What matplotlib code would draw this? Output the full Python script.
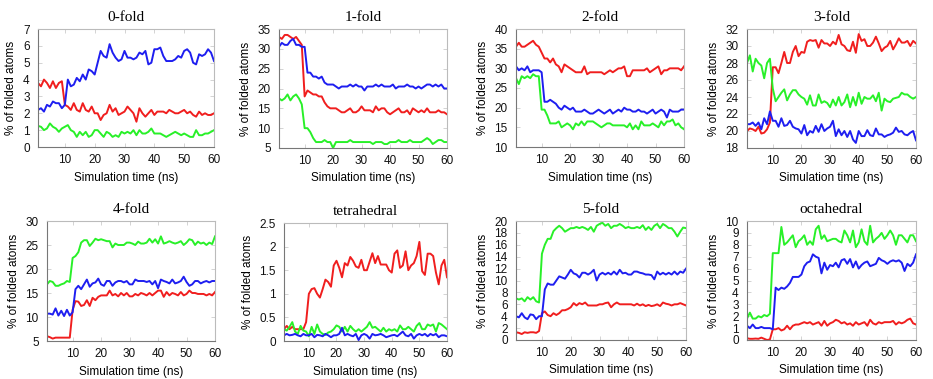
import numpy as np
import matplotlib
matplotlib.use("Agg")
import matplotlib.pyplot as plt

RED = "#f01e1e"
GREEN = "#28f028"
BLUE = "#1e1ef0"

time_ns = np.arange(1, 61)

titles = ["0-fold", "1-fold", "2-fold", "3-fold",
          "4-fold", "tetrahedral", "5-fold", "octahedral"]

# y ranges and tick spacing
y_limits = [(0, 7), (5, 35), (10, 40), (18, 32),
            (5, 30), (0, 2.5), (0, 20), (0, 10)]
y_steps = [1, 5, 5, 2, 5, 0.5, 2, 1]

# ---- 0-fold ----
fold0_red = [3.8, 3.6, 4.0, 3.8, 3.5, 3.9, 3.5, 3.8, 3.9, 2.5,
             2.4, 2.2, 2.6, 2.2, 2.1, 2.6, 2.2, 2.1, 2.4, 2.0,
             2.0, 1.6, 1.9, 2.0, 2.5, 2.1, 2.3, 1.9, 2.0, 2.1,
             2.4, 2.2, 2.0, 1.5, 2.3, 2.0, 1.8, 2.0, 2.2, 1.9,
             2.1, 2.1, 2.1, 2.0, 2.2, 2.1, 2.0, 2.0, 2.1, 2.2,
             2.0, 2.1, 1.9, 1.8, 2.1, 1.9, 2.0, 1.9, 1.9, 2.0]
fold0_green = [1.25, 1.2, 1.0, 1.1, 1.4, 1.2, 1.1, 0.9, 1.1, 1.2,
               1.3, 1.0, 0.9, 0.6, 0.9, 0.7, 0.9, 0.6, 0.7, 1.0,
               1.0, 0.8, 0.6, 0.9, 0.8, 0.6, 0.7, 0.6, 0.9, 0.8,
               0.9, 0.8, 1.0, 0.7, 1.0, 0.8, 0.8, 0.9, 1.1, 0.8,
               0.8, 0.8, 0.7, 0.6, 0.7, 0.8, 0.9, 0.8, 0.7, 0.8,
               0.7, 0.6, 0.6, 1.0, 0.7, 0.7, 0.8, 0.8, 0.9, 1.0]
fold0_blue = [2.2, 2.3, 2.1, 2.5, 2.4, 2.7, 2.6, 2.6, 2.3, 2.5,
              4.0, 3.6, 3.7, 4.1, 3.9, 4.3, 4.0, 4.6, 4.5, 4.3,
              5.0, 5.7, 5.4, 5.3, 6.1, 5.6, 5.3, 5.1, 5.2, 5.7,
              5.3, 5.3, 5.2, 5.3, 5.6, 5.5, 5.7, 4.9, 5.0, 5.8,
              5.8, 5.9, 5.4, 5.1, 5.1, 5.1, 5.2, 5.4, 5.3, 5.7,
              5.8, 5.6, 5.0, 4.9, 5.5, 5.4, 5.5, 5.8, 5.6, 5.1]

# ---- 1-fold ----
fold1_red = [33.0, 32.5, 33.5, 33.5, 33.0, 32.5, 33.0, 32.0, 31.0, 18.0,
             19.5, 19.0, 18.5, 18.5, 18.0, 18.0, 16.5, 15.5, 15.0, 15.0,
             15.0, 14.5, 14.0, 14.0, 14.5, 15.0, 14.0, 14.0, 14.5, 15.5,
             14.5, 14.5, 14.5, 14.0, 15.5, 14.5, 15.0, 15.0, 14.0, 13.5,
             14.0, 14.5, 15.0, 14.0, 14.0, 14.5, 13.5, 15.0, 14.5, 14.0,
             14.5, 14.0, 15.0, 14.0, 14.0, 14.0, 14.5, 14.0, 14.0, 13.5]
fold1_green = [17.5, 17.0, 17.5, 18.5, 17.0, 18.0, 18.5, 17.5, 16.0, 10.0,
               10.0, 9.0, 7.5, 6.5, 6.5, 6.5, 7.0, 6.5, 6.5, 5.0,
               6.5, 6.5, 6.5, 6.5, 6.5, 7.0, 6.5, 6.5, 6.5, 6.5,
               6.5, 6.5, 6.5, 6.0, 6.5, 6.5, 6.5, 6.0, 6.0, 6.5,
               6.5, 6.5, 7.0, 6.5, 6.5, 6.5, 7.0, 6.5, 6.5, 6.5,
               6.5, 7.0, 7.5, 7.0, 6.0, 6.5, 7.0, 7.0, 6.5, 6.5]
fold1_blue = [30.5, 31.5, 31.0, 31.0, 32.0, 32.5, 31.0, 31.0, 30.5, 30.5,
              24.0, 24.0, 23.0, 23.0, 22.5, 23.0, 21.5, 21.0, 21.0, 21.0,
              20.5, 20.0, 20.5, 20.5, 20.5, 21.0, 20.5, 21.0, 20.5, 20.5,
              19.5, 20.5, 20.5, 20.5, 21.0, 20.5, 21.0, 20.5, 20.5, 20.5,
              21.0, 20.0, 20.5, 20.5, 20.5, 21.0, 20.5, 20.5, 20.0, 20.5,
              20.0, 20.5, 21.0, 21.0, 20.5, 21.0, 20.5, 21.0, 20.0, 20.0]

# ---- 2-fold ----
fold2_red = [35.5, 36.5, 35.5, 35.5, 36.0, 36.5, 37.0, 36.0, 35.5, 34.0,
             32.5, 32.5, 31.5, 32.5, 31.0, 30.5, 29.0, 31.0, 30.5, 30.0,
             29.5, 29.0, 29.0, 29.0, 30.5, 28.5, 29.0, 29.0, 29.0, 29.0,
             29.0, 28.5, 29.0, 29.5, 29.0, 29.5, 30.0, 30.0, 30.5, 28.0,
             28.0, 29.5, 29.5, 29.5, 29.5, 29.5, 30.0, 29.0, 29.5, 30.0,
             30.5, 28.5, 29.5, 29.5, 30.0, 30.0, 30.0, 30.0, 29.5, 30.5]
fold2_green = [27.5, 26.0, 28.0, 27.5, 28.0, 27.5, 28.5, 28.0, 28.0, 19.5,
               19.5, 18.0, 16.0, 16.0, 16.0, 16.5, 15.0, 15.5, 16.0, 15.5,
               14.5, 16.0, 15.5, 16.5, 15.5, 16.5, 16.5, 16.5, 16.0, 15.5,
               15.0, 15.5, 16.0, 16.0, 15.5, 15.5, 15.5, 15.5, 15.5, 15.0,
               16.0, 14.5, 15.5, 14.5, 16.5, 15.5, 15.5, 15.5, 16.0, 15.5,
               15.0, 16.5, 15.5, 16.5, 16.5, 17.0, 15.5, 16.0, 15.0, 14.5]
fold2_blue = [30.5, 29.5, 30.0, 29.5, 30.5, 29.0, 29.5, 29.5, 29.5, 29.0,
              21.5, 21.5, 22.0, 21.5, 21.0, 20.0, 19.5, 20.5, 20.0, 19.5,
              20.0, 19.0, 19.0, 19.0, 19.5, 19.0, 18.5, 18.5, 19.0, 19.5,
              19.0, 18.5, 19.0, 19.5, 18.5, 19.0, 19.5, 19.0, 20.0, 19.5,
              19.5, 19.0, 19.0, 19.5, 19.0, 19.0, 18.5, 19.0, 19.5, 18.5,
              19.0, 19.5, 19.0, 17.5, 19.5, 19.0, 19.0, 19.0, 19.5, 19.5]

# ---- 3-fold ----
fold3_red = [20.0, 20.3, 20.2, 20.0, 20.5, 19.7, 19.8, 20.2, 21.0, 27.5,
             27.5, 26.8, 28.0, 29.3, 28.0, 28.0, 29.3, 30.0, 28.8, 29.3,
             29.2, 30.5, 30.7, 30.6, 30.7, 29.8, 30.7, 30.3, 30.3, 30.0,
             30.5, 30.2, 31.3, 30.2, 30.0, 29.5, 29.4, 30.5, 29.2, 31.4,
             30.6, 30.8, 30.0, 30.0, 30.4, 31.1, 30.3, 29.4, 29.8, 30.0,
             30.6, 29.6, 30.2, 30.9, 30.4, 30.4, 30.6, 30.0, 30.6, 30.3]
fold3_green = [28.0, 28.9, 27.0, 28.5, 28.0, 27.7, 26.2, 28.0, 28.5, 25.0,
               23.5, 24.0, 24.5, 24.9, 23.6, 24.3, 24.8, 24.8, 24.3, 24.0,
               23.8, 23.1, 24.2, 23.0, 23.0, 24.3, 23.3, 23.5, 23.3, 22.8,
               23.7, 23.0, 24.0, 23.0, 23.4, 24.3, 22.8, 24.0, 23.0, 24.5,
               23.2, 24.0, 23.8, 23.8, 24.2, 23.5, 24.5, 22.4, 23.8, 23.5,
               23.4, 23.8, 23.9, 24.0, 24.5, 24.3, 24.3, 24.0, 23.8, 24.0]
fold3_blue = [20.8, 20.8, 21.0, 20.6, 21.0, 20.2, 21.5, 20.8, 22.3, 21.2,
              21.2, 20.5, 21.5, 20.6, 20.7, 21.2, 20.5, 20.3, 20.2, 19.7,
              20.7, 19.5, 20.0, 19.8, 20.6, 19.9, 20.8, 20.0, 20.3, 20.5,
              21.2, 19.4, 20.2, 19.5, 20.0, 19.3, 20.0, 19.0, 18.6, 20.0,
              19.4, 19.4, 20.1, 19.5, 19.4, 20.3, 19.6, 19.6, 19.3, 19.5,
              19.6, 19.8, 20.4, 19.9, 20.0, 19.6, 19.5, 19.8, 20.0, 18.9]

# ---- 4-fold ----
fold4_red = [6.0, 5.8, 5.5, 5.7, 5.7, 5.7, 5.7, 5.7, 5.7, 11.5,
             13.3, 13.2, 12.3, 12.5, 13.5, 12.3, 14.0, 13.5, 14.2, 14.5,
             14.5, 14.5, 15.5, 14.5, 14.8, 14.3, 15.0, 14.5, 15.0, 14.3,
             14.3, 14.8, 14.5, 15.0, 14.8, 14.5, 15.0, 14.5, 15.0, 15.5,
             15.5, 14.2, 15.2, 14.5, 15.0, 14.8, 14.5, 15.2, 14.5, 14.8,
             15.5, 15.0, 15.0, 14.8, 14.8, 14.8, 14.5, 14.8, 14.5, 15.2]
fold4_green = [16.8, 17.5, 17.3, 16.5, 16.5, 16.8, 17.0, 17.5, 17.3, 22.3,
               22.7, 23.5, 25.5, 26.0, 26.0, 24.8, 25.5, 26.3, 26.0, 26.2,
               26.0, 25.8, 25.8, 24.5, 25.3, 25.0, 25.0, 25.0, 25.5, 25.5,
               25.3, 25.0, 25.7, 25.3, 25.3, 25.5, 26.3, 25.5, 26.2, 25.3,
               26.8, 25.3, 25.5, 25.8, 25.5, 25.3, 25.5, 25.8, 25.0, 25.5,
               26.2, 26.0, 25.0, 25.7, 25.3, 25.5, 25.0, 25.5, 25.2, 26.8]
fold4_blue = [10.7, 10.7, 10.5, 11.8, 10.3, 11.3, 10.2, 11.5, 10.3, 11.0,
              15.8, 16.5, 15.8, 16.8, 17.8, 16.3, 17.0, 17.2, 18.0, 16.8,
              16.5, 17.5, 17.5, 16.5, 17.2, 17.5, 17.5, 17.2, 17.5, 16.8,
              16.8, 17.8, 17.5, 17.5, 17.5, 17.3, 17.5, 16.8, 17.5, 16.0,
              17.8, 17.5, 17.3, 17.0, 17.8, 17.0, 17.2, 17.5, 18.4, 17.3,
              16.5, 16.8, 17.5, 17.5, 17.0, 17.3, 17.5, 17.2, 17.5, 17.5]

# ---- tetrahedral ----
tetra_red = [0.25, 0.32, 0.25, 0.30, 0.25, 0.25, 0.25, 0.25, 0.40, 1.00,
             1.10, 1.12, 1.00, 0.92, 1.10, 1.30, 1.25, 1.15, 1.60, 1.70,
             1.55, 1.35, 1.65, 1.60, 1.78, 1.70, 1.58, 1.55, 1.72, 1.50,
             1.50, 1.68, 1.86, 1.65, 1.80, 1.62, 1.62, 1.62, 1.50, 1.45,
             1.85, 1.92, 1.55, 1.60, 1.90, 1.50, 1.60, 1.65, 1.80, 2.10,
             1.48, 1.40, 1.85, 1.85, 1.80, 1.45, 1.20, 1.60, 1.72, 1.35]
tetra_green = [0.25, 0.22, 0.30, 0.40, 0.20, 0.15, 0.32, 0.22, 0.20, 0.10,
               0.30, 0.15, 0.35, 0.20, 0.15, 0.13, 0.18, 0.20, 0.25, 0.33,
               0.30, 0.20, 0.30, 0.20, 0.32, 0.25, 0.20, 0.25, 0.20, 0.25,
               0.30, 0.40, 0.28, 0.30, 0.25, 0.20, 0.28, 0.20, 0.25, 0.22,
               0.25, 0.20, 0.33, 0.25, 0.25, 0.30, 0.25, 0.20, 0.32, 0.38,
               0.25, 0.25, 0.35, 0.32, 0.35, 0.20, 0.38, 0.35, 0.30, 0.25]
tetra_blue = [0.12, 0.15, 0.12, 0.13, 0.15, 0.12, 0.10, 0.15, 0.12, 0.12,
              0.15, 0.08, 0.13, 0.12, 0.10, 0.15, 0.12, 0.08, 0.12, 0.12,
              0.15, 0.28, 0.12, 0.15, 0.12, 0.10, 0.15, 0.02, 0.12, 0.15,
              0.12, 0.05, 0.15, 0.12, 0.13, 0.15, 0.12, 0.08, 0.10, 0.12,
              0.13, 0.10, 0.15, 0.20, 0.12, 0.10, 0.15, 0.05, 0.12, 0.15,
              0.12, 0.15, 0.10, 0.15, 0.12, 0.15, 0.08, 0.12, 0.12, 0.10]

# ---- 5-fold ----
fold5_red = [1.3, 1.2, 1.0, 1.3, 1.2, 1.3, 1.3, 1.2, 1.5, 4.5,
             4.8, 4.2, 4.0, 4.5, 4.2, 4.5, 5.0, 5.0, 5.2, 5.5,
             6.2, 5.8, 6.2, 6.0, 6.3, 5.8, 5.8, 5.8, 5.8, 6.0,
             6.0, 6.2, 6.3, 5.5, 6.0, 6.3, 6.0, 6.0, 6.0, 6.0,
             6.0, 5.8, 6.1, 5.8, 6.0, 5.7, 5.9, 5.7, 5.8, 6.0,
             5.7, 6.3, 6.1, 6.0, 5.8, 6.0, 6.0, 6.2, 6.0, 5.8]
fold5_green = [7.0, 6.8, 7.0, 6.5, 7.2, 6.8, 7.2, 6.5, 6.3, 14.5,
               16.0, 17.0, 17.0, 18.3, 18.8, 19.2, 18.8, 18.2, 18.5, 18.8,
               18.8, 19.0, 18.8, 19.0, 18.8, 18.5, 19.0, 18.2, 19.2, 19.5,
               19.7, 19.2, 19.5, 18.8, 19.2, 19.2, 19.5, 19.2, 18.8, 19.0,
               18.8, 18.8, 19.0, 18.8, 19.3, 18.5, 19.0, 18.5, 19.2, 19.5,
               18.8, 19.5, 19.2, 18.8, 18.8, 18.2, 17.4, 18.2, 18.9, 18.8]
fold5_blue = [4.0, 3.8, 4.5, 3.8, 3.5, 4.3, 4.2, 3.5, 4.0, 4.0,
              8.5, 9.5, 9.3, 9.3, 10.0, 10.7, 10.5, 10.3, 11.0, 11.8,
              11.2, 11.0, 10.5, 11.3, 11.3, 11.0, 11.3, 11.8, 10.0, 11.0,
              11.3, 11.0, 11.3, 11.0, 11.5, 11.0, 11.8, 11.2, 11.3, 11.0,
              11.0, 11.5, 11.5, 11.3, 11.2, 11.0, 11.0, 10.9, 10.2, 11.5,
              11.0, 11.3, 11.0, 11.3, 11.0, 11.5, 11.0, 11.5, 11.3, 12.0]

# ---- octahedral ----
octa_red = [0.15, 0.10, 0.10, 0.12, 0.10, 0.20, 0.10, 0.00, 0.05, 0.90,
            0.90, 1.00, 0.80, 0.90, 1.20, 0.90, 1.20, 1.30, 1.30, 1.40,
            1.50, 1.40, 1.50, 1.30, 1.40, 1.50, 1.20, 1.60, 1.20, 1.40,
            1.50, 1.70, 1.60, 1.40, 1.50, 1.30, 1.40, 1.20, 1.50, 1.30,
            1.40, 1.50, 1.20, 1.70, 1.40, 1.30, 1.50, 1.40, 1.50, 1.50,
            1.50, 1.60, 1.30, 1.50, 1.40, 1.50, 1.70, 1.80, 1.40, 1.30]
octa_green = [1.8, 2.3, 1.8, 1.8, 2.0, 1.9, 2.1, 2.0, 2.2, 7.3,
              7.3, 7.3, 9.5, 8.0, 8.2, 8.5, 8.8, 7.8, 8.3, 8.5,
              8.8, 8.0, 8.3, 8.0, 9.3, 9.6, 8.5, 8.8, 8.3, 8.4,
              8.5, 8.5, 8.3, 8.2, 9.2, 8.8, 8.2, 9.2, 7.8, 8.2,
              9.3, 8.3, 8.0, 9.6, 8.2, 8.5, 8.7, 9.0, 8.5, 8.8,
              9.2, 8.8, 8.0, 8.8, 8.8, 8.5, 8.2, 8.8, 8.8, 8.3]
octa_blue = [1.2, 1.0, 1.3, 1.0, 1.0, 1.1, 1.0, 1.0, 1.0, 0.9,
             4.4, 4.2, 4.4, 4.3, 4.5, 4.8, 5.3, 5.3, 5.3, 5.5,
             6.2, 6.5, 6.6, 7.2, 7.0, 6.9, 5.6, 6.5, 5.9, 6.3,
             6.2, 6.5, 6.1, 6.7, 6.8, 6.4, 6.8, 6.1, 6.6, 6.0,
             6.3, 6.5, 6.6, 6.2, 6.3, 6.4, 6.9, 6.7, 6.6, 6.4,
             6.6, 6.7, 6.6, 6.7, 6.5, 5.8, 6.4, 6.2, 6.5, 7.2]

panels = [
    (fold0_red, fold0_green, fold0_blue),
    (fold1_red, fold1_green, fold1_blue),
    (fold2_red, fold2_green, fold2_blue),
    (fold3_red, fold3_green, fold3_blue),
    (fold4_red, fold4_green, fold4_blue),
    (tetra_red, tetra_green, tetra_blue),
    (fold5_red, fold5_green, fold5_blue),
    (octa_red, octa_green, octa_blue),
]

# axes boxes in pixels: left, top, right, bottom
boxes_px = [
    (38, 29, 214, 147), (279, 29, 447, 148), (516, 29, 684, 147), (747, 29, 916, 148),
    (47, 221, 215, 341), (284, 223, 447, 341), (516, 221, 686, 340), (747, 221, 916, 340),
]

W, H = 933, 379
fig = plt.figure(figsize=(W / 100, H / 100), dpi=100)
plt.rcParams['font.family'] = ['Liberation Sans', 'DejaVu Sans']

for i, (red, green, blue) in enumerate(panels):
    l, t, r, b = boxes_px[i]
    ax = fig.add_axes([l / W, (H - b) / H, (r - l) / W, (b - t) / H])

    ax.plot(time_ns, red, color=RED, lw=1.4)
    ax.plot(time_ns, green, color=GREEN, lw=1.4)
    ax.plot(time_ns, blue, color=BLUE, lw=1.4)

    lo, hi = y_limits[i]
    ax.set_xlim(1, 60)
    ax.set_ylim(lo, hi)
    ax.set_xticks([10, 20, 30, 40, 50, 60])
    ax.set_yticks(np.arange(lo, hi + y_steps[i] / 2, y_steps[i]))
    ax.yaxis.set_major_formatter(plt.FuncFormatter(lambda v, p: f"{v:g}"))
    # faint inward ticks on all four sides, like gnuplot
    ax.tick_params(direction='in', length=3, width=0.6, color='#cccccc',
                   top=True, right=True, labelsize=8.5, labelcolor='#111111')
    ax.tick_params(axis='x', pad=5)
    ax.tick_params(axis='y', pad=6)

    ax.spines['left'].set_color('#777777')
    ax.spines['bottom'].set_color('#777777')
    ax.spines['top'].set_color('#bbbbbb')
    ax.spines['right'].set_color('#bbbbbb')
    for s in ax.spines.values():
        s.set_linewidth(0.8)

    ax.set_title(titles[i], family='Liberation Serif', fontsize=11, pad=6)
    ax.set_xlabel("Simulation time (ns)", fontsize=8.5, labelpad=4)
    ax.set_ylabel("% of folded atoms", fontsize=8.5, labelpad=4)

fig.savefig("out.png", dpi=100)
